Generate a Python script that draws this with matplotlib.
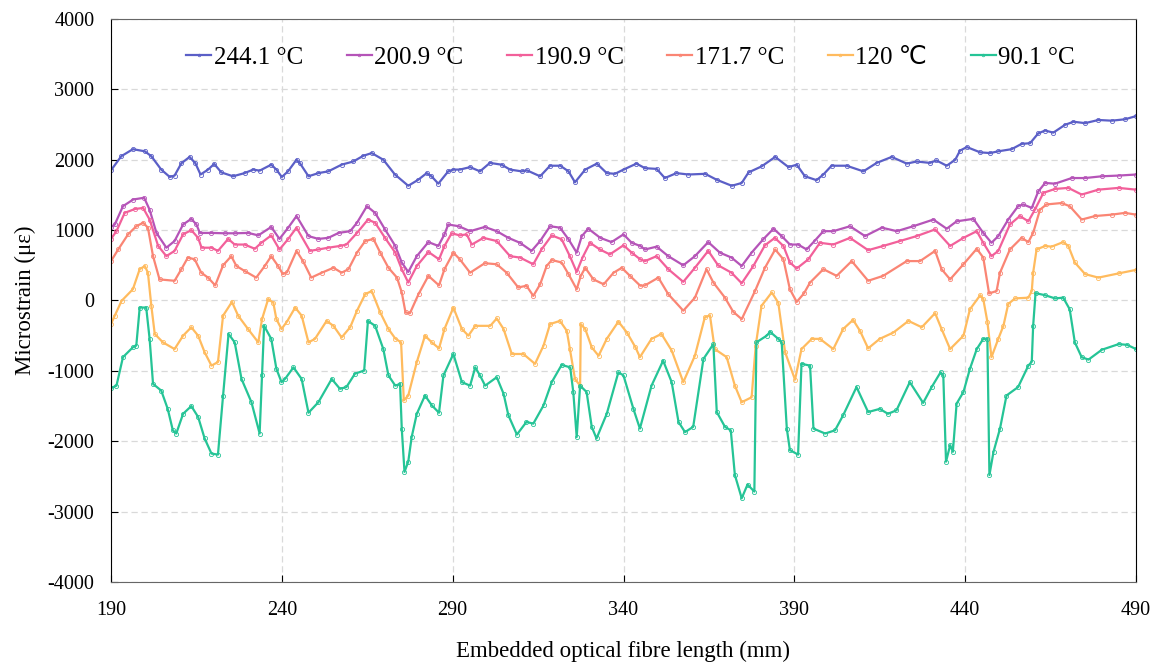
import matplotlib
matplotlib.use('Agg')
import matplotlib.pyplot as plt

plt.rcParams['font.family'] = ['Liberation Serif', 'DejaVu Sans']
plt.rcParams['axes.unicode_minus'] = False

x_244 = [190, 193, 196.4, 199.9, 201.8, 204.7, 207.2, 208.6, 210.6, 213, 214.7, 216.2, 218.4, 220.2, 222.3,
         225.7, 229.1, 231.6, 233.5, 236.9, 238.4, 240, 241.8, 244.3, 245.3, 247.8, 250.7, 253.6, 257.5, 260.9,
         263.8, 266.3, 269.7, 273.1, 277, 279.9, 282.4, 283.8, 285.8, 288.7, 290.2, 292.1, 295.1, 298, 300.9,
         304.3, 306.8, 310.2, 311.7, 315.6, 318.5, 321.5, 323.9, 325.8, 328.8, 332.2, 335.1, 337.5, 340, 343.8,
         346.3, 349.7, 352.1, 355.5, 359, 363.9, 367.3, 371.7, 374.6, 376.6, 380.4, 384.4, 388.3, 390.7, 393.1,
         396.5, 398.5, 400.9, 405.3, 410.2, 414.1, 418.5, 422.9, 425.8, 429.7, 431.6, 434.6, 437.1, 438.5, 440.5,
         444.4, 447.3, 449.7, 453.6, 456.5, 459, 461.4, 463.4, 465.8, 469.2, 471.7, 475.1, 479, 482.9, 486.8, 490]
y_244 = [1850, 2050, 2150, 2120, 2050, 1860, 1755, 1775, 1950, 2040, 1950, 1790, 1860, 1940, 1820,
         1765, 1810, 1860, 1845, 1930, 1860, 1755, 1835, 2000, 1950, 1765, 1810, 1835, 1930, 1975,
         2055, 2095, 2000, 1790, 1630, 1715, 1810, 1765, 1660, 1835, 1860, 1860, 1895, 1835, 1955,
         1930, 1860, 1835, 1850, 1765, 1915, 1915, 1835, 1680, 1860, 1945, 1810, 1800, 1860, 1945,
         1880, 1870, 1740, 1810, 1790, 1800, 1715, 1630, 1670, 1820, 1905, 2040, 1895, 1930, 1765,
         1710, 1790, 1915, 1915, 1835, 1955, 2040, 1945, 1975, 1955, 1990, 1915, 2000, 2130, 2180,
         2105, 2095, 2120, 2150, 2225, 2235, 2375, 2415, 2385, 2495, 2540, 2520, 2565, 2555, 2575, 2620]

x_200 = [190, 191.1, 193.5, 196.5, 199.7, 201.3, 203.3, 206.2, 208.6, 211.1, 213.5, 215, 216, 219.4, 223.3,
         226.2, 230.2, 233.1, 236.9, 239.3, 241.8, 244.3, 247.8, 250.7, 253.6, 256.6, 260, 262, 264.9, 267.3,
         270.2, 273.2, 275.1, 277, 279.5, 282.9, 285.8, 287.6, 288.7, 291.8, 295.1, 299.4, 302.9, 306.3, 309.7,
         313.1, 315.6, 318.5, 321.4, 323.9, 326.3, 327.8, 329.7, 333.2, 336.5, 340, 342.4, 344.9, 346.3, 349.7,
         353.1, 357.5, 360.9, 364.8, 368.2, 371.6, 374.6, 377.5, 380.9, 383.9, 386.3, 388.7, 391.1, 393.6, 396,
         398.5, 401.4, 406.3, 410.7, 415.6, 420, 424.8, 430.7, 434.6, 437.5, 442.4, 445.3, 447.7, 449.7, 452.6,
         455.5, 457, 459.5, 461.4, 463.4, 466.3, 471.2, 475.1, 480, 484.9, 490]
y_200 = [1045, 1080, 1340, 1435, 1460, 1290, 960, 750, 845, 1080, 1160, 1080, 960, 960, 955,
         955, 960, 925, 1045, 875, 1030, 1200, 915, 875, 890, 960, 985, 1105, 1340, 1245,
         1010, 775, 540, 405, 630, 830, 775, 940, 1080, 1055, 985, 1045, 985, 890, 820,
         705, 845, 1055, 1035, 870, 680, 915, 1020, 890, 830, 940, 820, 775, 725, 765,
         630, 500, 630, 830, 680, 610, 490, 680, 870, 1020, 915, 795, 795, 725, 850,
         985, 985, 1055, 915, 1035, 985, 1055, 1150, 1020, 1125, 1160, 960, 820, 915, 1150,
         1340, 1365, 1315, 1550, 1670, 1660, 1740, 1740, 1765, 1775, 1790]

x_190 = [190, 191.6, 194, 197, 199.4, 201.3, 203.8, 206.2, 208.6, 211.1, 213.5, 215.5, 216.5, 219.4, 221.3,
         224.3, 226.2, 229.1, 232.1, 234, 236.9, 239.3, 241.8, 244.3, 248.2, 250.7, 253.6, 257, 258.9, 262,
         265.2, 267.3, 270.2, 273.2, 275.1, 277, 279.5, 282.9, 286, 287.6, 289.7, 292.1, 294.1, 295.6, 299,
         302.9, 306.8, 309.7, 313.6, 316, 319, 321.9, 324.3, 326.3, 328, 330.2, 333.1, 336, 340, 342.4,
         344.9, 346.3, 349.7, 353.1, 357.5, 360.9, 364.8, 367.7, 371.6, 374.6, 378, 381.4, 384.3, 386.8, 388.7,
         390.7, 394.1, 397.5, 401.4, 406.3, 411.6, 416, 420.9, 425.8, 431.2, 435.6, 439.5, 443.4, 445.3, 447.7,
         449.7, 453.1, 456, 458.5, 460.4, 462.9, 466.3, 470.2, 474.1, 479, 484.9, 490]
y_190 = [875, 985, 1245, 1300, 1315, 1150, 775, 630, 705, 940, 1000, 890, 750, 750, 705,
         875, 795, 795, 735, 820, 925, 725, 870, 1035, 705, 725, 750, 775, 795, 960,
         1150, 1105, 890, 680, 445, 255, 490, 690, 585, 775, 955, 925, 940, 795, 890,
         845, 630, 610, 515, 725, 925, 870, 630, 405, 610, 820, 725, 655, 785, 680,
         585, 560, 630, 445, 265, 465, 705, 500, 395, 245, 490, 785, 890, 775, 540,
         455, 585, 820, 795, 890, 715, 775, 845, 915, 1010, 775, 890, 985, 820, 630,
         705, 1080, 1200, 1125, 1290, 1530, 1585, 1600, 1505, 1575, 1600, 1575]

x_171 = [190, 192.1, 195, 197.4, 199.4, 200.8, 202.3, 204.2, 208.6, 210.6, 212.5, 214.5, 216.4, 218.4, 220.5,
         222.8, 225.2, 226.7, 229.1, 232.5, 235, 236.9, 238.9, 240.3, 241.5, 244.3, 246.2, 248.6, 251.7, 255.1,
         257.5, 259.5, 262, 264.4, 266.8, 268.8, 271.2, 273.7, 275.1, 276.2, 277.5, 280, 282.9, 286, 287.6,
         290.2, 292.1, 295.1, 299.4, 302.9, 305.8, 309.2, 311.6, 313.6, 315.6, 317.5, 319, 321.9, 323.9, 326.3,
         327.5, 328.8, 331.2, 334.2, 337.1, 339.5, 341.9, 344.9, 346.3, 350.2, 353.1, 357.5, 360.9, 364.3, 366.3,
         369.7, 372.1, 374.6, 378.5, 381.4, 384.4, 386.8, 388.7, 390.7, 392.8, 394.6, 398.5, 402.4, 406.8, 411.6,
         416, 422.9, 426.8, 431.2, 433.1, 435.6, 439.5, 443.4, 445.3, 447, 449.2, 450.2, 453.1, 456.5, 458.5,
         459.9, 461.9, 463.8, 468.2, 470.6, 474.1, 478, 482.9, 486.8, 490]
y_171 = [560, 725, 940, 1055, 1105, 1035, 630, 300, 280, 445, 610, 585, 395, 325, 215,
         500, 630, 490, 420, 325, 490, 630, 490, 375, 400, 705, 560, 325, 395, 465,
         395, 445, 680, 845, 875, 680, 465, 325, 115, -170, -180, 90, 350, 215, 445,
         680, 585, 395, 530, 515, 395, 185, 210, 65, 230, 490, 575, 540, 375, 160,
         350, 465, 300, 230, 395, 465, 350, 210, 215, 325, 90, -145, 40, 445, 255,
         40, -160, -265, 135, 465, 725, 585, 160, -20, 100, 255, 445, 350, 560, 280,
         350, 560, 560, 705, 445, 300, 515, 735, 610, 100, 135, 395, 725, 890, 830,
         960, 1290, 1365, 1385, 1340, 1150, 1200, 1220, 1245, 1220]

x_120 = [190, 191.1, 193.1, 196.4, 198.4, 199.9, 200.8, 201.8, 202.8, 205.2, 208.6, 211.1, 213.5, 215.5, 217.4,
         219.4, 221.3, 222.8, 225.4, 227.2, 230.1, 233.1, 234.2, 236, 237.5, 238.4, 239.9, 241.5, 243.9, 245.8,
         247.8, 249.7, 253.1, 255.1, 257.5, 260, 262, 264.4, 266.3, 268.8, 271.2, 273.2, 274.9, 275.7, 277,
         279.5, 281.9, 283.9, 286, 287.6, 290.2, 292.7, 294.6, 296.6, 301, 302.9, 304.9, 307.3, 310.7, 314.1,
         316.6, 318.5, 321.4, 323.4, 324.3, 325.8, 327.3, 327.5, 328.8, 330.7, 332.7, 335.1, 338.5, 341, 343.5,
         344.8, 348.2, 351.1, 354.1, 357.5, 360.9, 363.8, 365.3, 366.7, 370.2, 372.6, 374.6, 377.5, 378.7, 380.4,
         383.4, 385.3, 387.3, 390.2, 392.1, 395.1, 397.5, 401.4, 404.3, 407.2, 409.2, 411.6, 415, 419, 423.4,
         427.3, 431.2, 433.1, 435.6, 439.5, 441.4, 444.4, 445.3, 446.5, 447.7, 449.7, 451.2, 452.6, 454.6, 458.5,
         459.5, 459.9, 460.9, 463.4, 465.3, 468.7, 470.2, 472.1, 475.1, 479, 484.9, 490]
y_120 = [-335, -215, -5, 160, 445, 490, 395, -75, -475, -595, -690, -500, -380, -500, -735,
         -925, -875, -215, -20, -215, -405, -595, -265, 20, -30, -265, -405, -300, -100, -215,
         -595, -545, -290, -360, -525, -380, -145, 90, 135, -170, -405, -540, -595, -1420, -1350,
         -875, -500, -595, -680, -405, -100, -405, -500, -360, -360, -255, -405, -760, -760, -900,
         -640, -335, -290, -430, -690, -1115, -1210, -335, -405, -665, -785, -545, -300, -455, -665,
         -805, -545, -475, -710, -1160, -785, -240, -210, -690, -805, -1210, -1445, -1375, -640, -75,
         115, -30, -735, -1125, -690, -545, -545, -690, -405, -275, -430, -680, -545, -455, -290,
         -380, -180, -405, -690, -500, -125, 75, 20, -300, -805, -545, -360, -50, 30, 40,
         135, 395, 725, 775, 765, 830, 775, 540, 375, 325, 385, 435]

x_90 = [190, 191.6, 193.5, 196.4, 197.4, 198.4, 200.3, 201.3, 202.3, 204.7, 206.6, 208.1, 209.1, 211.1, 213.5,
        215.5, 217.4, 219.4, 221.3, 222.8, 224.4, 226.2, 228.2, 231.1, 233.5, 234.2, 234.8, 236.9, 238.4, 239.9,
        241, 243.4, 245.8, 247.8, 250.7, 254.6, 257, 258.9, 261.4, 264.1, 265.2, 267.3, 269.7, 271.2, 273.2,
        274.6, 275.1, 275.9, 277, 278, 279.5, 281.9, 283.9, 286, 287.3, 290.2, 292.7, 295.1, 296.6, 298,
        299.5, 302.9, 304.9, 306.3, 308.8, 311.6, 313.6, 316.6, 319, 321.9, 324.4, 325.3, 326.3, 327.3, 329.2,
        330.7, 332.1, 335.1, 338.5, 340, 342.9, 344.8, 348.2, 351.6, 354.1, 356.1, 358, 360.4, 363.4, 366.3,
        367.3, 369.7, 371.4, 372.6, 374.6, 376.3, 378.3, 378.9, 381.9, 382.9, 385.3, 386.3, 387.8, 388.7, 391.1,
        392.1, 394.6, 395.6, 399, 401.9, 404.3, 408.2, 411.6, 415, 417.4, 419.9, 423.8, 427.7, 430.2, 432.8,
        433.6, 434.4, 435.6, 436.4, 437.5, 439.5, 441.4, 443.4, 445.3, 446.5, 447.1, 448.3, 450.2, 452.1, 455.5,
        458.5, 459.5, 459.9, 460.6, 463.4, 466.3, 468.7, 470.6, 472.1, 474.1, 476.1, 480, 484.9, 487.4, 490]
y_90 = [-1245, -1210, -805, -665, -640, -100, -100, -545, -1185, -1280, -1540, -1845, -1890, -1610, -1500,
        -1655, -1960, -2175, -2190, -1350, -475, -595, -1115, -1445, -1890, -1065, -360, -545, -970, -1160,
        -1110, -950, -1115, -1595, -1445, -1115, -1255, -1230, -1040, -995, -290, -360, -690, -1065, -1210,
        -1185, -1820, -2435, -2290, -1940, -1610, -1350, -1490, -1595, -1065, -760, -1160, -1210, -950, -1065,
        -1210, -1090, -1325, -1630, -1905, -1725, -1750, -1490, -1160, -915, -950, -1300, -1940, -1210, -1300,
        -1795, -1960, -1610, -1020, -1065, -1540, -1820, -1210, -855, -1160, -1725, -1870, -1795, -830, -620,
        -1585, -1795, -1845, -2480, -2810, -2615, -2715, -595, -500, -445, -545, -595, -1820, -2125, -2190,
        -900, -925, -1820, -1890, -1845, -1630, -1230, -1585, -1540, -1610, -1560, -1160, -1455, -1230, -1020,
        -1065, -2290, -2055, -2150, -1465, -1300, -970, -690, -545, -545, -2480, -2150, -1820, -1350, -1230,
        -925, -870, -360, 105, 75, 30, 40, -125, -595, -805, -840, -700, -620, -630, -690]

series = [
    (x_244, y_244, '244.1 °C', '#5b5fc7'),
    (x_200, y_200, '200.9 °C', '#b554b8'),
    (x_190, y_190, '190.9 °C', '#f2609a'),
    (x_171, y_171, '171.7 °C', '#fa8574'),
    (x_120, y_120, '120 ℃', '#ffbb5e'),
    (x_90, y_90, '90.1 °C', '#25c496'),
]

fig = plt.figure(figsize=(11.6, 6.66), dpi=100)
ax = fig.add_axes([0.0957, 0.1261, 0.8836, 0.8454])

for xs, ys, lab, col in series:
    ax.plot(xs, ys, color=col, lw=1.6, marker='o', ms=3, mfc='none', mew=0.6, label=lab)

ax.set_xlim(190, 490)
ax.set_ylim(-4000, 4000)
ax.set_xticks(range(190, 491, 50))
ax.set_yticks(range(-4000, 4001, 1000))
ax.grid(True, color='#d9d9d9', lw=0.9, ls=(0, (5, 3)))
ax.set_axisbelow(True)
ax.tick_params(direction='in', length=5, labelsize=14.5, top=False, right=False)
ax.tick_params(axis='y', pad=12)
ax.tick_params(axis='x', pad=14)
for s in ['top', 'bottom']:
    ax.spines[s].set_color('#666666')
for s in ['left', 'right']:
    ax.spines[s].set_color('black')

ax.set_xlabel('Embedded optical fibre length (mm)', fontsize=16.5, labelpad=15)
ax.set_ylabel('Microstrain (με)', fontsize=16.5, labelpad=8)

ax.legend(loc='center', bbox_to_anchor=(0.507, 0.931), ncol=6, frameon=False, fontsize=18,
          handlelength=1.0, handletextpad=0.1, columnspacing=1.75, numpoints=1, markerscale=0.6)

fig.savefig('out.png', dpi=100)
